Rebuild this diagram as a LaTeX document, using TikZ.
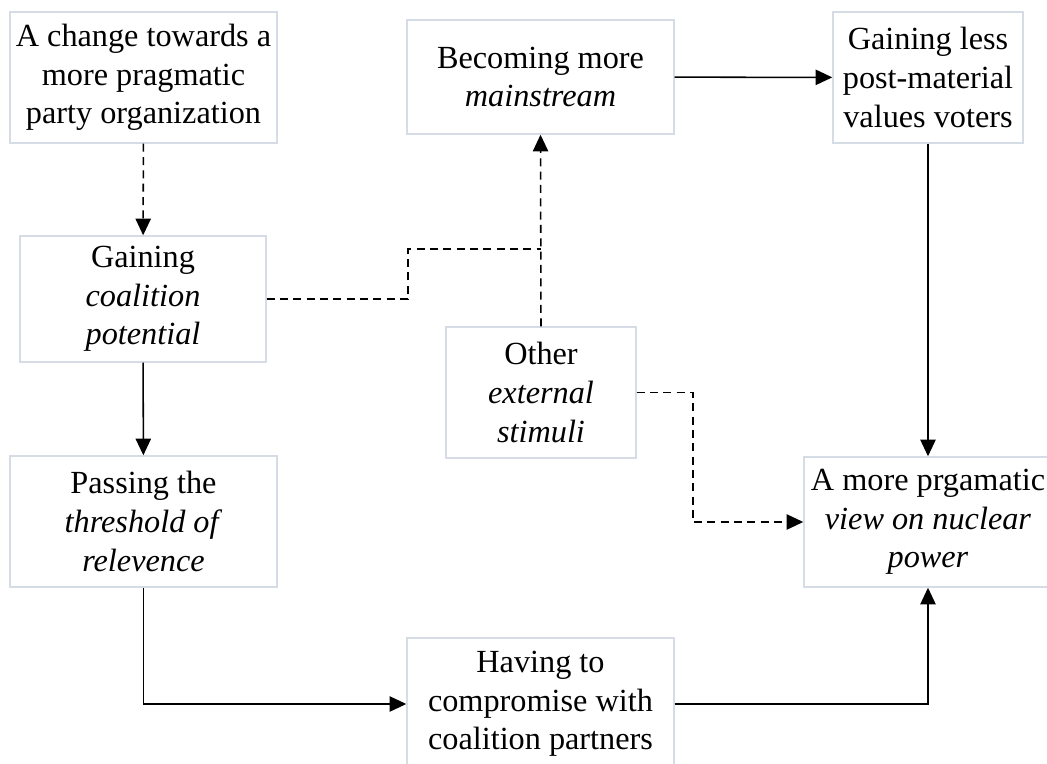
\documentclass[tikz,border=0pt]{standalone}
\usepackage{fontspec}
\setmainfont{Liberation Serif}
\usetikzlibrary{arrows.meta}
\definecolor{boxline}{RGB}{214,220,230}

\begin{document}
\begin{tikzpicture}[x=0.75pt,y=-0.75pt,>={Triangle[length=12.5pt,width=11.5pt]},line width=1.15pt]
\tikzstyle{every node}=[rectangle,draw=boxline,line width=1.1pt,fill=white,align=center,inner sep=0pt,font=\fontsize{24.2}{29}\selectfont]
\tikzstyle{wide}=[minimum width=200.25pt,minimum height=98.25pt]
\tikzstyle{narrow}=[minimum width=142.5pt,minimum height=98.25pt]
\tikzstyle{dsh}=[dash pattern=on 6pt off 4pt]
\useasboundingbox (0,0) rectangle (1047,764);
\node[wide] (a) at (143.5,77.5) {A change towards a\\more pragmatic\\party organization};
\node[wide,minimum width=184.5pt,minimum height=94.5pt] (b) at (143,299) {Gaining\\\textit{coalition}\\\textit{potential}};
\node[wide] (c) at (143.5,521.5) {Passing the\\\textit{threshold of}\\\textit{relevence}};
\node[wide,minimum height=85.5pt] (d) at (540.5,77) {Becoming more\\\textit{mainstream}};
\node[narrow] (e) at (928,77.5) {Gaining less\\post-material\\values voters};
\node[narrow] (f) at (541,392.5) {Other\\\textit{external}\\\textit{stimuli}};
\node[wide,minimum width=186pt,minimum height=97.5pt] (g) at (928,522) {A more prgamatic\\\textit{view on nuclear}\\\textit{power}};
\node[wide,minimum height=99pt] (h) at (540.5,704) {Having to\\compromise with\\coalition partners};
\coordinate (bend) at (408,249);
\coordinate (join) at (f.north |- bend);
\draw [->,dsh] (a) -- (b);
\draw [->] (b) -- (c);
\draw [->] (c.south) |- (h.west);
\draw [->] (h.east) -| (g.south);
\draw [->] (d) -- (e);
\draw [->] (e.south) -- (e.south |- g.north);
\draw [dsh] (b.east) -| (bend) -- (join);
\draw [->,dsh] (f.north) -- (d.south);
\draw [->,dsh] (f.east) -- ++(56,0) |- (g.west);
\end{tikzpicture}
\end{document}
